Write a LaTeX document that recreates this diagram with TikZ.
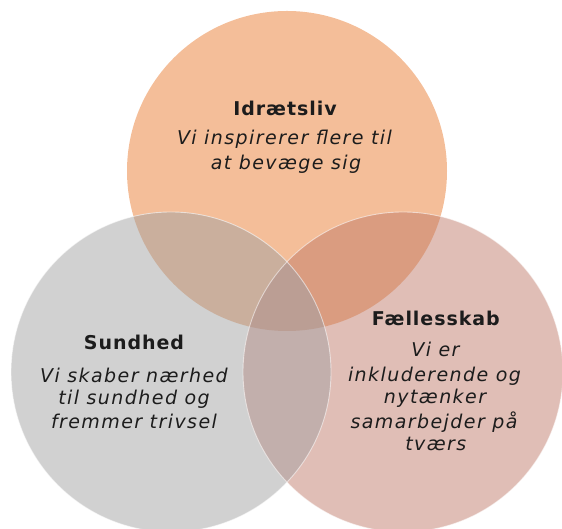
\documentclass[tikz,border=0pt]{standalone}
\usepackage{fontspec}
\setmainfont{DejaVu Sans}
\newfontfamily\bodyfont[LetterSpace=7.5]{DejaVu Sans}
\newfontfamily\headfont[LetterSpace=5]{DejaVu Sans}
\definecolor{topc}{HTML}{F4BE99}
\definecolor{leftc}{HTML}{D1D1D1}
\definecolor{rightc}{HTML}{E0BEB6}
\definecolor{tlc}{HTML}{CAAF9D}
\definecolor{trc}{HTML}{DA9C80}
\definecolor{lrc}{HTML}{C2AFAC}
\definecolor{allc}{HTML}{BB9E94}
\definecolor{txt}{HTML}{1C1C1C}
\tikzset{
  headtext/.style={anchor=base, inner sep=0pt, text=txt, font=\headfont\bfseries\fontsize{19}{23}\selectfont},
  bodytext/.style={anchor=base, inner sep=0pt, text=txt, font=\bodyfont\itshape\fontsize{19}{23}\selectfont},
  rim/.style={draw=white, draw opacity=0.55, line width=0.9pt}
}
\begin{document}
\begin{tikzpicture}[x=1pt,y=1pt]
\useasboundingbox (0,0) rectangle (562,529);
\coordinate (T) at (287,358);
\coordinate (L) at (171,157);
\coordinate (R) at (403,157);
% base fills
\fill[topc] (T) circle (160pt);
\fill[leftc] (L) circle (160pt);
\fill[rightc] (R) circle (160pt);
% pairwise overlaps
\begin{scope}
  \clip (T) circle (160pt);
  \fill[tlc] (L) circle (160pt);
  \fill[trc] (R) circle (160pt);
\end{scope}
\begin{scope}
  \clip (L) circle (160pt);
  \fill[lrc] (R) circle (160pt);
\end{scope}
\begin{scope}
  \clip (T) circle (160pt);
  \clip (L) circle (160pt);
  \fill[allc] (R) circle (160pt);
\end{scope}
% light rims
\draw[rim] (L) circle (160pt);
\draw[rim] (R) circle (160pt);
% texts
\node[headtext] (h1) at (285,413) {Idrætsliv};
\node[bodytext] (t1a) at (284.5,384.7) {Vi inspirerer flere til};
\node[bodytext] (t1b) at (286,359.7) {at bevæge sig};

\node[headtext] (h2) at (134,179.7) {Sundhed};
\node[bodytext] (t2a) at (134,146.3) {Vi skaber nærhed};
\node[bodytext] (t2b) at (134,124) {til sundhed og};
\node[bodytext] (t2c) at (134,100.7) {fremmer trivsel};

\node[headtext] (h3) at (435.8,203) {Fællesskab};
\node[bodytext] (t3a) at (435.5,172.3) {Vi er};
\node[bodytext] (t3b) at (434.5,147.3) {inkluderende og};
\node[bodytext] (t3c) at (435,125) {nytænker};
\node[bodytext] (t3d) at (434,100.7) {samarbejder på};
\node[bodytext] (t3e) at (435.8,78.3) {tværs};
\end{tikzpicture}
\end{document}
